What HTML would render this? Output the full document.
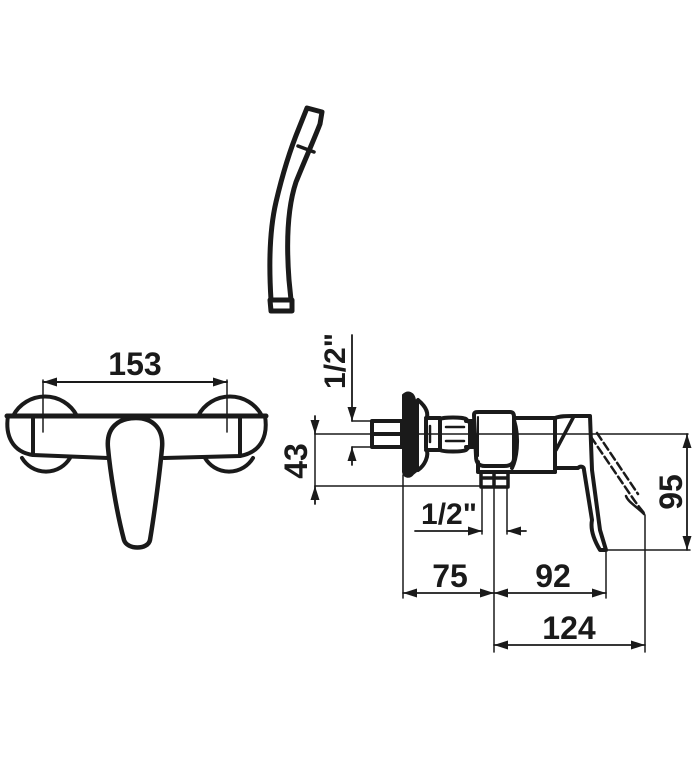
<!DOCTYPE html>
<html><head><style>
html,body{margin:0;padding:0;background:#fff;}
svg{display:block;}
text{font-family:"Liberation Sans",Arial,sans-serif;font-weight:bold;fill:#1a1a1a;}
</style></head><body>
<svg width="700" height="763" viewBox="0 0 700 763" xmlns="http://www.w3.org/2000/svg">
<defs>
<marker id="a" viewBox="0 0 14 9" refX="14" refY="4.5" markerWidth="14" markerHeight="9" orient="auto-start-reverse" markerUnits="userSpaceOnUse"><path d="M0,0 L14,4.5 L0,9 Z" fill="#1a1a1a"/></marker>
</defs>
<g fill="none" stroke="#1a1a1a" stroke-linejoin="round" stroke-linecap="round">
<!-- hand shower -->
<path d="M307,108 L322,112 L320,124 C313,142 304,162 296,182 C288,206 286,240 289,280 L291,300 L271,300 C269,268 269,232 276,202 C283,172 292,145 299,128 Z" stroke-width="5"/>
<path d="M298,146 L314,152" stroke-width="3.5"/>
<path d="M270,300 L292,300 L292,311 L271,311 Z" stroke-width="5"/>

<!-- front view -->
<path d="M13,416 A36,36 0 0 1 77,416" stroke-width="4"/>
<path d="M198,416 A36,36 0 0 1 262,416" stroke-width="4"/>
<path d="M22,458 A28,28 0 0 0 70,458" stroke-width="4"/>
<path d="M205,458 A28,28 0 0 0 253,458" stroke-width="4"/>
<path d="M8,416 C5,435 12,452 33,455 L108,458" stroke-width="4"/>
<path d="M265,416 C268,435 262,452 240,456 L164,458" stroke-width="4"/>
<path d="M7,416 L266,416" stroke-width="5"/>
<path d="M33,416 L33,455 M240,416 L240,456" stroke-width="4"/>
<path d="M136,418 C118,418 106,428 108,448 C110,470 116,510 124,540 C127,550 148,550 150,540 C155,510 160,470 162,448 C164,428 152,418 136,418 Z" stroke-width="4.5" fill="#fff"/>
<!-- 153 dim -->
<path d="M43,380 L43,432 M227,380 L227,432" stroke-width="1.5"/>
<line x1="43" y1="382" x2="227" y2="382" stroke-width="2" marker-start="url(#a)" marker-end="url(#a)"/>

<!-- side view -->
<path d="M403,395 C408,390 414,393 415,400 L418,402 L418,470 L413,474 C410,478 404,478 403,472 Z" fill="#1a1a1a" stroke-width="2"/>
<path d="M418,400 C424,405 430,412 426,420 L426,448 C430,456 424,466 418,470" stroke-width="4"/>
<path d="M372,421 L402,421 L402,447 L372,447 Z M372,434 L402,434" stroke-width="4"/>
<path d="M426,418 L440,418 L440,450 L426,450 M440,419 C444,417 462,417 466,419 L470,423 L470,446 L466,450 C462,452 444,452 440,450" stroke-width="4"/>
<path d="M446,427 L464,427 M446,441 L464,441 M430,426 L430,442" stroke-width="2.5"/>
<path d="M466,421 L474,421 L474,447 L466,447" stroke-width="4"/>
<path d="M474,415 C474,412 476,412 479,412 L510,412 C513,412 514,414 514,417 L514,458 C514,464 510,466 504,466 L485,466 C478,466 476,462 476,456 Z" stroke-width="4"/>
<path d="M478,417 L478,456" stroke-width="2"/>
<path d="M514,418 L555,418 L555,472 L514,472 M514,420 C520,440 516,460 512,468" stroke-width="4"/>
<path d="M478,462 L478,472 L514,472" stroke-width="4"/>
<path d="M481,472 L481,487 L508,487 L508,472 M494,472 L494,487 M481,478 L508,478" stroke-width="3.5"/>
<path d="M555,472 L555,418 C560,416 566,416 572,416 L590,416 L592,470 L600,530 L606,550 L600,550 C594,540 590,530 592,520 L584,470 C584,466 580,466 578,468 L555,468" stroke-width="4"/>
<path d="M556,450 L574,416" stroke-width="3.5"/>
<path d="M591,437 L632,497 C636,503 640,508 644,513 M597,433 L638,494" stroke-width="2.5" stroke-dasharray="8,4"/>
<path d="M626,496 C628,502 636,506 644,514" stroke-width="2.5"/>

<g stroke-width="1.5">
<line x1="315" y1="434" x2="688" y2="434"/>
<line x1="315" y1="486" x2="480" y2="486"/>
<line x1="352" y1="421" x2="372" y2="421"/>
<line x1="352" y1="447" x2="372" y2="447"/>
<line x1="606" y1="550" x2="690" y2="550"/>
<line x1="403" y1="475" x2="403" y2="598"/>
<line x1="494" y1="487" x2="494" y2="652"/>
<line x1="482" y1="487" x2="482" y2="534"/>
<line x1="507" y1="487" x2="507" y2="534"/>
<line x1="606" y1="552" x2="606" y2="598"/>
<line x1="645" y1="515" x2="645" y2="652"/>
</g>
<line x1="352" y1="335" x2="352" y2="421" stroke-width="1.8" marker-end="url(#a)"/>
<line x1="352" y1="465" x2="352" y2="447" stroke-width="1.8" marker-end="url(#a)"/>
<line x1="315" y1="416" x2="315" y2="434" stroke-width="1.8" marker-end="url(#a)"/>
<line x1="315" y1="504" x2="315" y2="486" stroke-width="1.8" marker-end="url(#a)"/>
<line x1="315" y1="434" x2="315" y2="486" stroke-width="1.5"/>
<line x1="415" y1="531" x2="482" y2="531" stroke-width="1.8" marker-end="url(#a)"/>
<line x1="526" y1="531" x2="507" y2="531" stroke-width="1.8" marker-end="url(#a)"/>
<line x1="403" y1="593" x2="494" y2="593" stroke-width="1.8" marker-start="url(#a)" marker-end="url(#a)"/>
<line x1="494" y1="593" x2="606" y2="593" stroke-width="1.8" marker-start="url(#a)" marker-end="url(#a)"/>
<line x1="494" y1="645" x2="645" y2="645" stroke-width="1.8" marker-start="url(#a)" marker-end="url(#a)"/>
<line x1="687" y1="434" x2="687" y2="550" stroke-width="1.8" marker-start="url(#a)" marker-end="url(#a)"/>
</g>

<text x="135" y="375" font-size="32" text-anchor="middle">153</text>
<text x="450" y="587" font-size="32" text-anchor="middle">75</text>
<text x="553" y="587" font-size="32" text-anchor="middle">92</text>
<text x="569" y="639" font-size="32" text-anchor="middle">124</text>
<text x="449" y="524" font-size="30" text-anchor="middle">1/2"</text>
<text transform="translate(307,461) rotate(-90)" font-size="32" text-anchor="middle">43</text>
<text transform="translate(682,492) rotate(-90)" font-size="32" text-anchor="middle">95</text>
<text transform="translate(345,361) rotate(-90)" font-size="30" text-anchor="middle">1/2"</text>
</svg>
</body></html>
